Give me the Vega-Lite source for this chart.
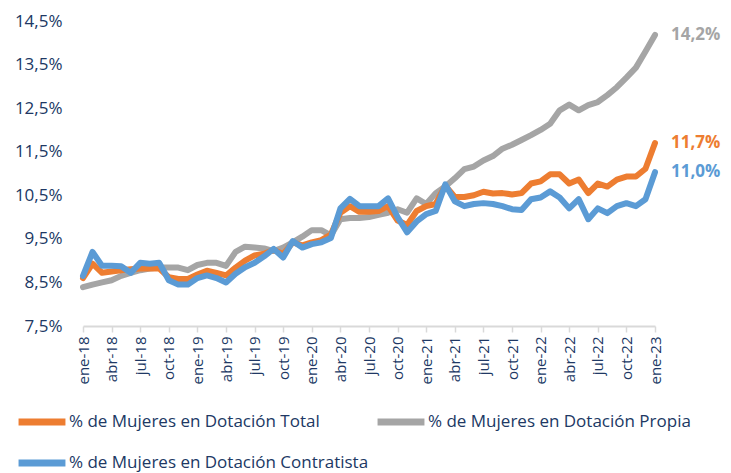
{
  "$schema": "https://vega.github.io/schema/vega-lite/v6.json",
  "width": 572,
  "height": 305,
  "autosize": "none",
  "padding": {"left": 83, "top": 21, "right": 76, "bottom": 147},
  "background": "white",
  "datasets": {
    "serie": [
      {"mes": "ene-18", "total": 8.6, "propia": 8.39, "contratista": 8.65},
      {"mes": "feb-18", "total": 8.93, "propia": 8.45, "contratista": 9.2},
      {"mes": "mar-18", "total": 8.72, "propia": 8.5, "contratista": 8.88},
      {"mes": "abr-18", "total": 8.75, "propia": 8.55, "contratista": 8.88},
      {"mes": "may-18", "total": 8.78, "propia": 8.65, "contratista": 8.87},
      {"mes": "jun-18", "total": 8.8, "propia": 8.72, "contratista": 8.72},
      {"mes": "jul-18", "total": 8.82, "propia": 8.78, "contratista": 8.95},
      {"mes": "ago-18", "total": 8.82, "propia": 8.82, "contratista": 8.93},
      {"mes": "sep-18", "total": 8.82, "propia": 8.84, "contratista": 8.95},
      {"mes": "oct-18", "total": 8.62, "propia": 8.84, "contratista": 8.55},
      {"mes": "nov-18", "total": 8.58, "propia": 8.84, "contratista": 8.45},
      {"mes": "dic-18", "total": 8.58, "propia": 8.78, "contratista": 8.45},
      {"mes": "ene-19", "total": 8.68, "propia": 8.9, "contratista": 8.6},
      {"mes": "feb-19", "total": 8.77, "propia": 8.95, "contratista": 8.66},
      {"mes": "mar-19", "total": 8.72, "propia": 8.95, "contratista": 8.6},
      {"mes": "abr-19", "total": 8.66, "propia": 8.88, "contratista": 8.5},
      {"mes": "may-19", "total": 8.84, "propia": 9.2, "contratista": 8.7},
      {"mes": "jun-19", "total": 9.0, "propia": 9.32, "contratista": 8.85},
      {"mes": "jul-19", "total": 9.12, "propia": 9.3, "contratista": 8.95},
      {"mes": "ago-19", "total": 9.16, "propia": 9.28, "contratista": 9.1},
      {"mes": "sep-19", "total": 9.25, "propia": 9.22, "contratista": 9.27},
      {"mes": "oct-19", "total": 9.15, "propia": 9.3, "contratista": 9.07},
      {"mes": "nov-19", "total": 9.42, "propia": 9.42, "contratista": 9.45},
      {"mes": "dic-19", "total": 9.35, "propia": 9.55, "contratista": 9.3},
      {"mes": "ene-20", "total": 9.42, "propia": 9.7, "contratista": 9.38},
      {"mes": "feb-20", "total": 9.47, "propia": 9.7, "contratista": 9.42},
      {"mes": "mar-20", "total": 9.6, "propia": 9.58, "contratista": 9.52},
      {"mes": "abr-20", "total": 10.1, "propia": 9.95, "contratista": 10.2},
      {"mes": "may-20", "total": 10.25, "propia": 9.98, "contratista": 10.42},
      {"mes": "jun-20", "total": 10.12, "propia": 9.98, "contratista": 10.25},
      {"mes": "jul-20", "total": 10.12, "propia": 10.0, "contratista": 10.25},
      {"mes": "ago-20", "total": 10.14, "propia": 10.05, "contratista": 10.25},
      {"mes": "sep-20", "total": 10.25, "propia": 10.1, "contratista": 10.43},
      {"mes": "oct-20", "total": 9.92, "propia": 10.18, "contratista": 10.0},
      {"mes": "nov-20", "total": 9.82, "propia": 10.1, "contratista": 9.65},
      {"mes": "dic-20", "total": 10.14, "propia": 10.43, "contratista": 9.9},
      {"mes": "ene-21", "total": 10.25, "propia": 10.3, "contratista": 10.07},
      {"mes": "feb-21", "total": 10.3, "propia": 10.55, "contratista": 10.14},
      {"mes": "mar-21", "total": 10.72, "propia": 10.7, "contratista": 10.75},
      {"mes": "abr-21", "total": 10.46, "propia": 10.89, "contratista": 10.36},
      {"mes": "may-21", "total": 10.46, "propia": 11.1, "contratista": 10.25},
      {"mes": "jun-21", "total": 10.5, "propia": 11.16, "contratista": 10.3},
      {"mes": "jul-21", "total": 10.58, "propia": 11.3, "contratista": 10.32},
      {"mes": "ago-21", "total": 10.54, "propia": 11.4, "contratista": 10.3},
      {"mes": "sep-21", "total": 10.55, "propia": 11.57, "contratista": 10.25},
      {"mes": "oct-21", "total": 10.52, "propia": 11.66, "contratista": 10.18},
      {"mes": "nov-21", "total": 10.55, "propia": 11.77, "contratista": 10.16},
      {"mes": "dic-21", "total": 10.77, "propia": 11.88, "contratista": 10.41},
      {"mes": "ene-22", "total": 10.82, "propia": 12.0, "contratista": 10.45},
      {"mes": "feb-22", "total": 10.98, "propia": 12.14, "contratista": 10.59},
      {"mes": "mar-22", "total": 10.98, "propia": 12.45, "contratista": 10.45},
      {"mes": "abr-22", "total": 10.77, "propia": 12.58, "contratista": 10.2},
      {"mes": "may-22", "total": 10.86, "propia": 12.45, "contratista": 10.41},
      {"mes": "jun-22", "total": 10.55, "propia": 12.57, "contratista": 9.95},
      {"mes": "jul-22", "total": 10.77, "propia": 12.64, "contratista": 10.2},
      {"mes": "ago-22", "total": 10.7, "propia": 12.8, "contratista": 10.09},
      {"mes": "sep-22", "total": 10.86, "propia": 12.98, "contratista": 10.25},
      {"mes": "oct-22", "total": 10.93, "propia": 13.2, "contratista": 10.32},
      {"mes": "nov-22", "total": 10.93, "propia": 13.43, "contratista": 10.25},
      {"mes": "dic-22", "total": 11.11, "propia": 13.8, "contratista": 10.41},
      {"mes": "ene-23", "total": 11.7, "propia": 14.18, "contratista": 11.03}
    ],
    "etiquetas": [
      {"mes": "ene-23", "serie": "propia", "valor": 14.18, "etiqueta": "14,2%"},
      {"mes": "ene-23", "serie": "total", "valor": 11.7, "etiqueta": "11,7%"},
      {"mes": "ene-23", "serie": "contratista", "valor": 11.03, "etiqueta": "11,0%"}
    ]
  },
  "encoding": {
    "x": {
      "field": "mes",
      "type": "ordinal",
      "sort": null,
      "scale": {"type": "point", "padding": 0},
      "axis": {
        "title": null,
        "values": ["ene-18","abr-18","jul-18","oct-18","ene-19","abr-19","jul-19","oct-19","ene-20","abr-20","jul-20","oct-20","ene-21","abr-21","jul-21","oct-21","ene-22","abr-22","jul-22","oct-22","ene-23"],
        "labelAngle": 270,
        "labelFont": "Open Sans",
        "labelFontSize": 15,
        "labelColor": "#203864",
        "labelPadding": 4,
        "domainColor": "#D9D9D9",
        "domainWidth": 2,
        "tickColor": "#D9D9D9",
        "tickWidth": 1.5,
        "tickSize": 6,
        "grid": false
      }
    },
    "y": {
      "field": "valor",
      "type": "quantitative",
      "scale": {"domain": [7.5, 14.5], "nice": false, "zero": false},
      "axis": {
        "title": null,
        "values": [7.5, 8.5, 9.5, 10.5, 11.5, 12.5, 13.5, 14.5],
        "labelExpr": "replace(format(datum.value, '.1f'), '.', ',') + '%'",
        "labelFont": "Open Sans",
        "labelFontSize": 17,
        "labelColor": "#203864",
        "labelPadding": 21,
        "domain": false,
        "ticks": false,
        "grid": false
      }
    },
    "color": {
      "field": "serie",
      "type": "nominal",
      "scale": {
        "domain": ["total", "propia", "contratista"],
        "range": ["#ED7D31", "#A5A5A5", "#5B9BD5"]
      },
      "legend": {
        "title": null,
        "orient": "none",
        "legendX": -68,
        "legendY": 374,
        "direction": "horizontal",
        "columns": 2,
        "columnPadding": -6,
        "rowPadding": -12,
        "symbolType": "stroke",
        "symbolSize": 2200,
        "symbolStrokeWidth": 7,
        "labelOffset": 0,
        "labelFont": "Open Sans",
        "labelFontSize": 17,
        "labelColor": "#203864",
        "labelLimit": 400,
        "labelExpr": "datum.label == 'total' ? '% de Mujeres en Dotación Total' : datum.label == 'propia' ? '% de Mujeres en Dotación Propia' : '% de Mujeres en Dotación Contratista'"
      }
    }
  },
  "layer": [
    {
      "data": {"name": "serie"},
      "transform": [
        {"fold": ["propia", "total", "contratista"], "as": ["serie", "valor"]}
      ],
      "mark": {"type": "line", "strokeWidth": 6, "strokeJoin": "round", "strokeCap": "round"}
    },
    {
      "data": {"name": "etiquetas"},
      "mark": {"type": "text", "align": "left", "baseline": "middle", "dx": 16, "font": "Open Sans", "fontSize": 17, "fontWeight": "bold"},
      "encoding": {
        "text": {"field": "etiqueta"},
        "color": {"field": "serie", "type": "nominal", "legend": null}
      }
    }
  ],
  "config": {"view": {"stroke": null}}
}
